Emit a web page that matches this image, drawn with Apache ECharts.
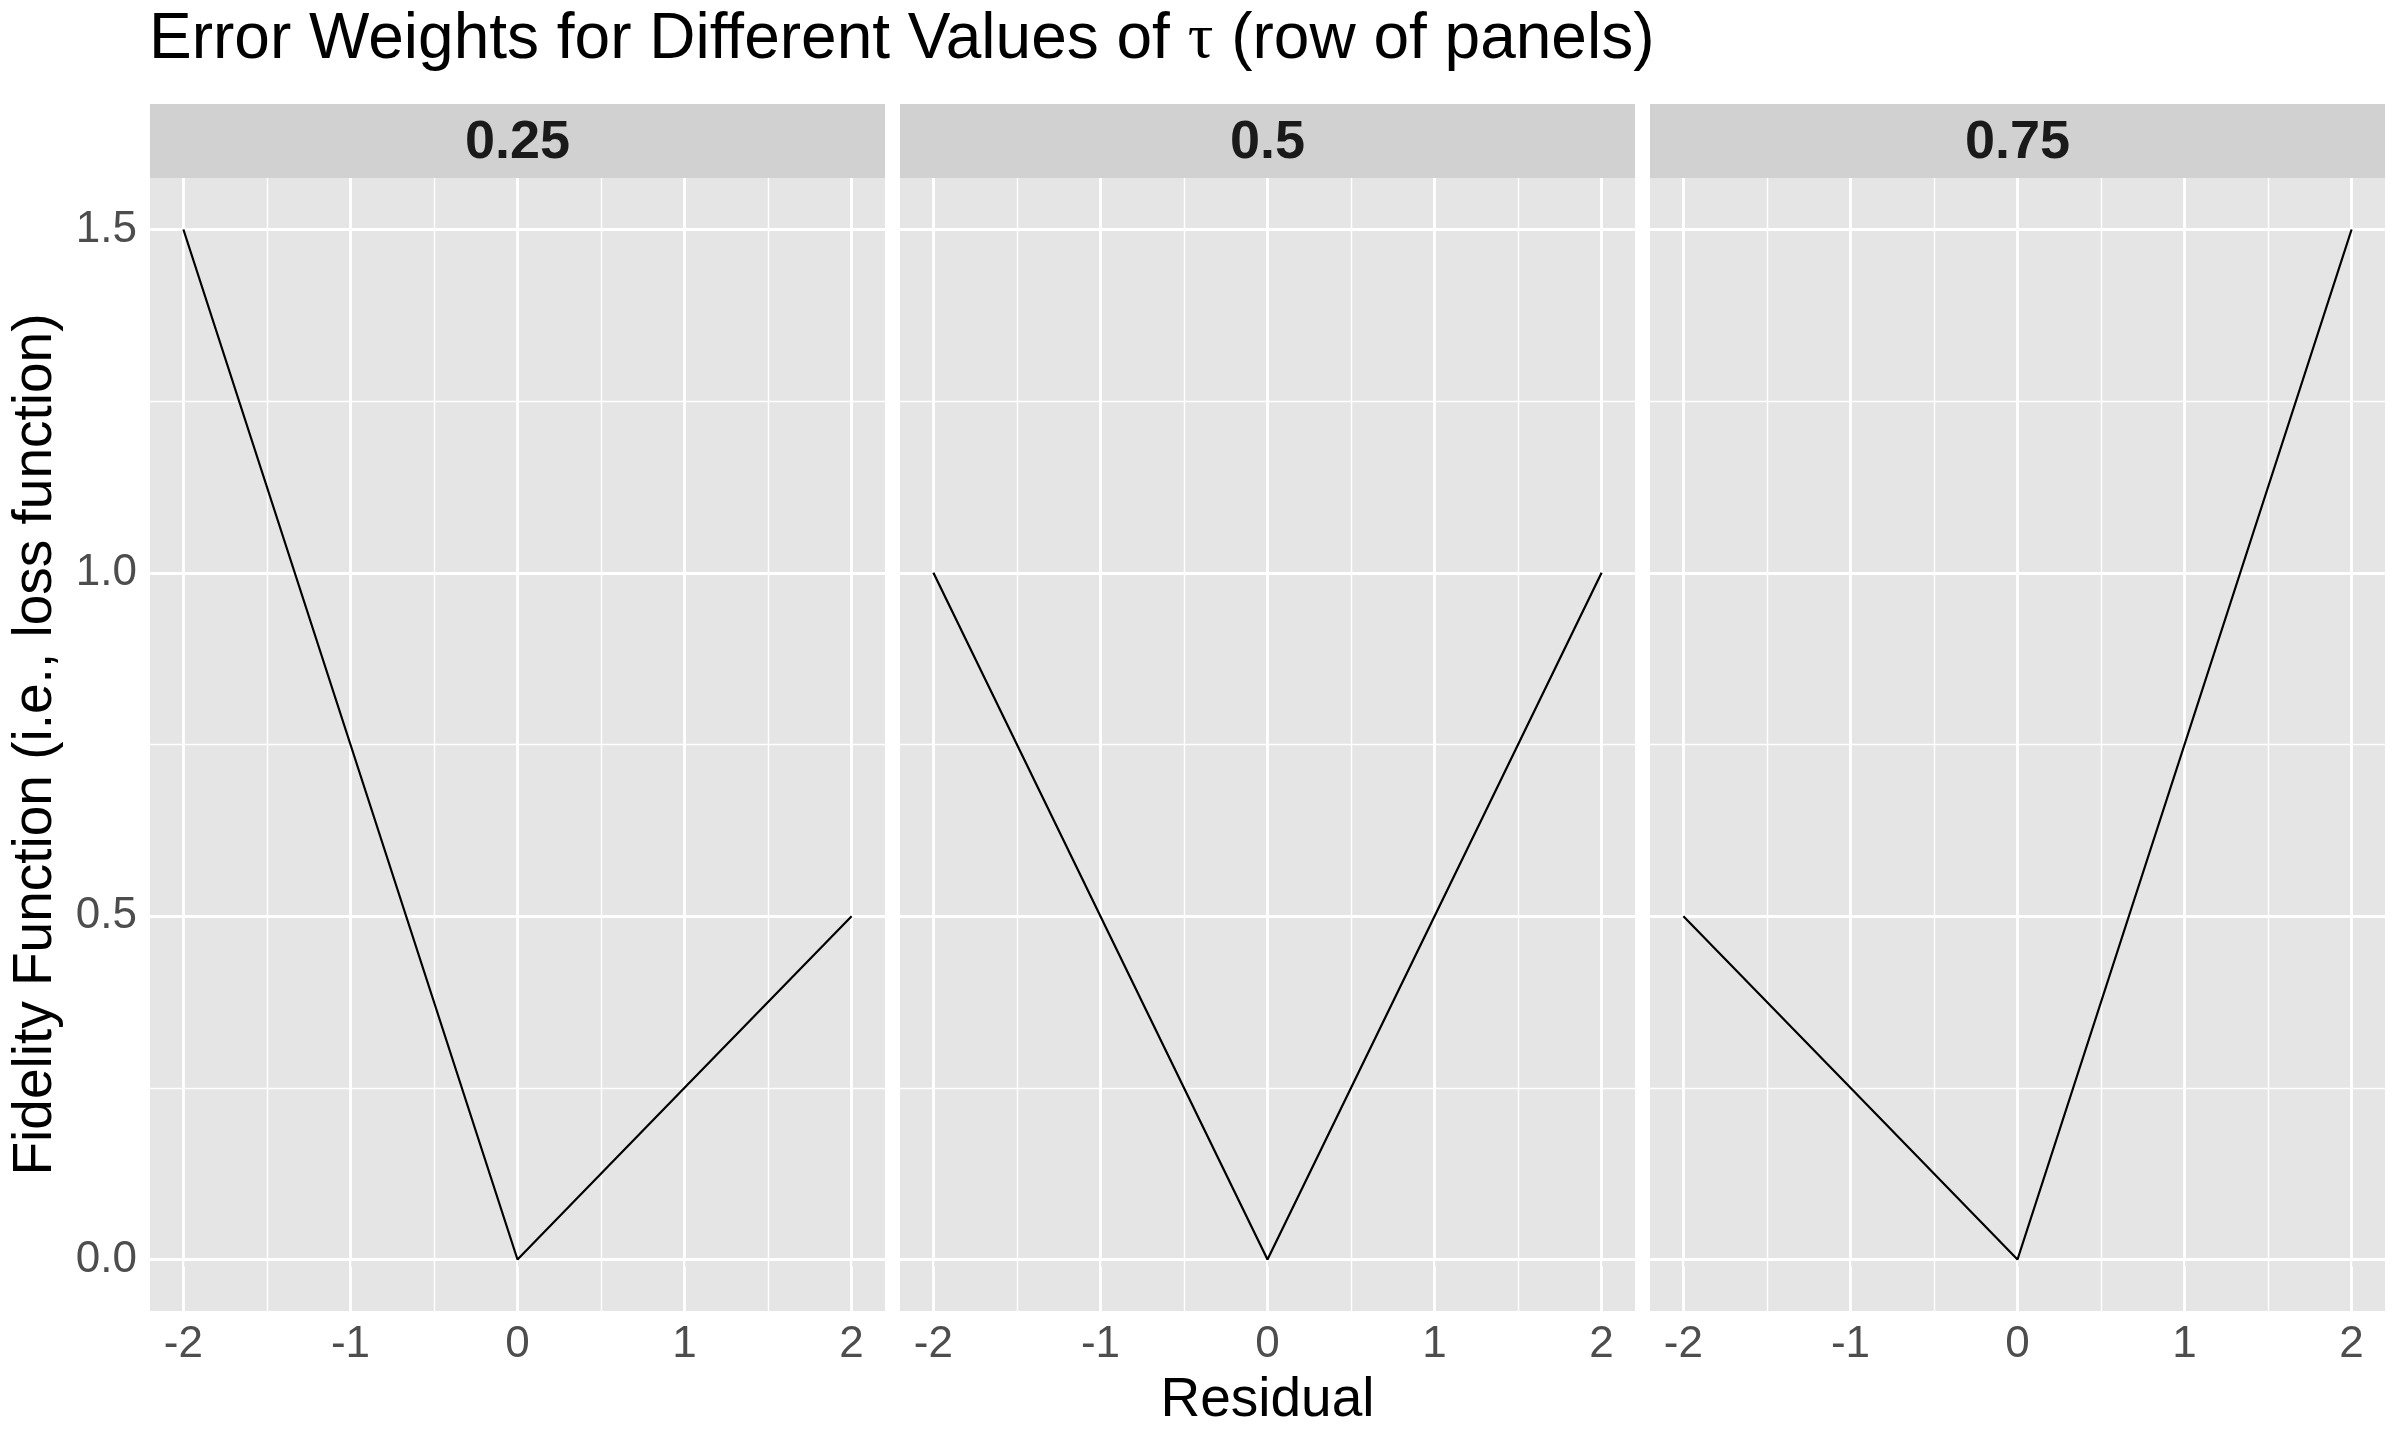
<!DOCTYPE html>
<html lang="en">

<head>
  <meta charset="UTF-8">
  <title>Error Weights</title>
  <style type="text/css">
    body { margin: 0; background: #ffffff; }
  </style>
</head>

<body>
  <div id="mainChart" style="width: 2400px; height: 1440px;"></div>
</body>
<script type="text/javascript" src="https://cdn.jsdelivr.net/npm/echarts@6/dist/echarts.min.js"></script>
<script type="text/javascript">
  // data
  var residual = [-2, -1, 0, 1, 2]
  var tauLabels = ['0.25', '0.5', '0.75']
  var loss025 = [1.5, 0.75, 0, 0.25, 0.5]
  var loss050 = [1, 0.5, 0, 0.5, 1]
  var loss075 = [0.5, 0.25, 0, 0.75, 1.5]
  var xTicks = [-2, -1, 0, 1, 2]
  var xMinor = [-1.5, -0.5, 0.5, 1.5]
  var yTicks = [0, 0.5, 1, 1.5]
  var yMinor = [0.25, 0.75, 1.25]

  var lossByPanel = [loss025, loss050, loss075]

  // layout of the three facets
  var panelLeft = [150, 900, 1650]
  var panelW = 735
  var panelTop = 178
  var panelH = 1133
  var stripTop = 104
  var stripH = 74

  var font = 'Liberation Sans, Arial, sans-serif'
  var panelBg = '#E5E5E5'
  var stripBg = '#D1D1D1'

  var myChart = echarts.init(document.getElementById('mainChart'), null, { renderer: 'canvas' })

  var grids = [], xAxes = [], yAxes = [], series = [], graphics = []

  function gridLines() {
    var d = []
    xTicks.forEach(function (v) { d.push({ xAxis: v, lineStyle: { width: 2.8 } }) })
    xMinor.forEach(function (v) { d.push({ xAxis: v, lineStyle: { width: 1.4 } }) })
    yTicks.forEach(function (v) { d.push({ yAxis: v, lineStyle: { width: 2.8 } }) })
    yMinor.forEach(function (v) { d.push({ yAxis: v, lineStyle: { width: 1.4 } }) })
    return d
  }

  for (var i = 0; i < 3; i++) {
    grids.push({
      left: panelLeft[i], top: panelTop, width: panelW, height: panelH,
      show: true, backgroundColor: panelBg, borderWidth: 0
    })
    xAxes.push({
      type: 'value', gridIndex: i, min: -2.2, max: 2.2,
      axisLine: { show: false },
      splitLine: { show: false },
      axisTick: { show: true, length: 7, customValues: xTicks, lineStyle: { color: '#333333', width: 2 } },
      axisLabel: {
        customValues: xTicks, margin: 12, color: '#4D4D4D', fontSize: 44, fontFamily: font,
        formatter: function (v) { return String(v) }
      },
      name: i === 1 ? 'Residual' : '',
      nameLocation: 'middle', nameGap: 62,
      nameTextStyle: { color: '#000000', fontSize: 55, fontFamily: font }
    })
    yAxes.push({
      type: 'value', gridIndex: i, min: -0.075, max: 1.575,
      axisLine: { show: false },
      splitLine: { show: false },
      axisTick: { show: i === 0, length: 7, customValues: yTicks, lineStyle: { color: '#333333', width: 2 } },
      axisLabel: {
        show: i === 0, customValues: yTicks, margin: 13, color: '#4D4D4D', fontSize: 44, fontFamily: font,
        formatter: function (v) { return v.toFixed(1) }
      },
      name: i === 0 ? 'Fidelity Function (i.e., loss function)' : '',
      nameLocation: 'middle', nameGap: 87, nameRotate: 90,
      nameTextStyle: { color: '#000000', fontSize: 55, fontFamily: font }
    })
    // white grid lines drawn under the data
    series.push({
      type: 'line', xAxisIndex: i, yAxisIndex: i, z: 1,
      data: residual.map(function (x, k) { return [x, lossByPanel[i][k]] }),
      symbol: 'none', lineStyle: { opacity: 0 }, silent: true,
      markLine: {
        z: 1,
        silent: true, symbol: ['none', 'none'], label: { show: false },
        lineStyle: { color: '#ffffff', type: 'solid' },
        emphasis: { disabled: true },
        animation: false,
        data: gridLines()
      }
    })
    series.push({
      type: 'line', xAxisIndex: i, yAxisIndex: i, z: 10,
      data: residual.map(function (x, k) { return [x, lossByPanel[i][k]] }),
      symbol: 'none', lineStyle: { color: '#000000', width: 2.2 }
    })
    // facet strip
    graphics.push({
      type: 'rect', left: panelLeft[i], top: stripTop,
      shape: { width: panelW, height: stripH },
      style: { fill: stripBg }
    })
    graphics.push({
      type: 'text', x: panelLeft[i] + panelW / 2, y: stripTop + stripH / 2 + 2,
      style: {
        text: tauLabels[i], fill: '#1A1A1A', font: 'bold 54px ' + font,
        textAlign: 'center', textVerticalAlign: 'middle'
      }
    })
  }

  var option = {
    animation: false,
    backgroundColor: '#ffffff',
    title: {
      text: '{a|Error Weights for Different Values of }{t|τ}{a| (row of panels)}',
      left: 149, top: 8, padding: 0,
      textStyle: {
        fontWeight: 'normal',
        rich: {
          a: { fontSize: 64, fontWeight: 'normal', fontFamily: font, color: '#000000' },
          t: { fontSize: 64, fontWeight: 'normal', fontFamily: 'Liberation Serif, DejaVu Serif, serif', color: '#000000' }
        }
      }
    },
    grid: grids,
    xAxis: xAxes,
    yAxis: yAxes,
    series: series,
    graphic: graphics
  }
  myChart.setOption(option)
</script>

</html>
